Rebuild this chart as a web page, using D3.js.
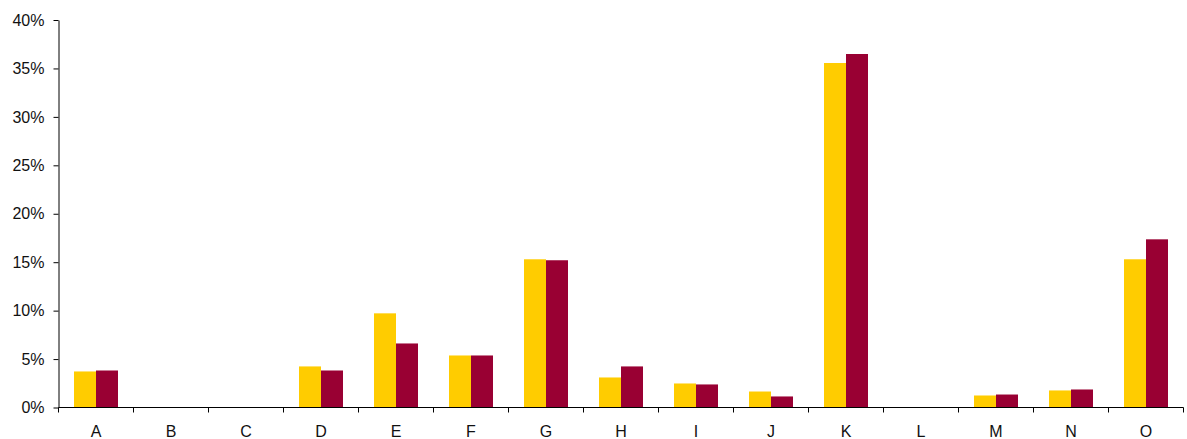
<!DOCTYPE html>
<html><head><meta charset="utf-8">
<script src="https://cdn.jsdelivr.net/npm/d3@7"></script>
<style>body{margin:0;background:#fff}svg{display:block}text{font-family:"Liberation Sans",Arial,sans-serif}</style>
</head><body>
<svg id="c" width="1187" height="439"></svg>
<script>
const categories = ["A","B","C","D","E","F","G","H","I","J","K","L","M","N","O"];
const series1 = [3.72,0,0,4.24,9.72,5.37,15.3,3.1,2.48,1.65,35.56,0,1.24,1.76,15.3];
const series2 = [3.82,0,0,3.82,6.61,5.37,15.2,4.24,2.38,1.14,36.49,0,1.34,1.86,17.36];
const yTicks = [0,5,10,15,20,25,30,35,40];
const colors = ["#FFCC00","#990033"];

const svg = d3.select("#c");
const x = d3.scaleBand().domain(categories).range([58.5,1183.5]);
const y = d3.scaleLinear().domain([0,40]).range([407.5,20]);
const inner = d3.scaleBand().domain([0,1]).range([15.5,59.5]);

const g = svg.append("g");
categories.forEach((c,i)=>{
  [series1[i],series2[i]].forEach((v,k)=>{
    if(v<=0) return;
    g.append("rect").attr("x",x(c)+inner(k)).attr("width",inner.bandwidth())
     .attr("y",y(v)).attr("height",y(0)-y(v)).attr("fill",colors[k]);
  });
});

const yAxis = svg.append("g").attr("transform","translate(58.5,0)")
  .call(d3.axisLeft(y).tickValues(yTicks).tickFormat(d=>d+"%").tickSize(5).tickSizeOuter(0));
yAxis.selectAll("text").style("font-size","16px").attr("fill","#111").attr("x",-14);
yAxis.select(".domain").attr("stroke","#000");

const xAxis = svg.append("g").attr("transform","translate(0,407.5)");
xAxis.append("line").attr("x1",58.5).attr("x2",1183.5).attr("stroke","#000");
const bounds = categories.map(c=>x(c)).concat([x(categories[categories.length-1])+x.bandwidth()]);
bounds.forEach(b=>xAxis.append("line").attr("x1",b).attr("x2",b).attr("y1",0).attr("y2",5).attr("stroke","#000"));
categories.forEach(c=>xAxis.append("text").attr("x",x(c)+x.bandwidth()/2).attr("y",29)
  .attr("text-anchor","middle").style("font-size","16px").attr("fill","#111").text(c));
</script>
</body></html>
